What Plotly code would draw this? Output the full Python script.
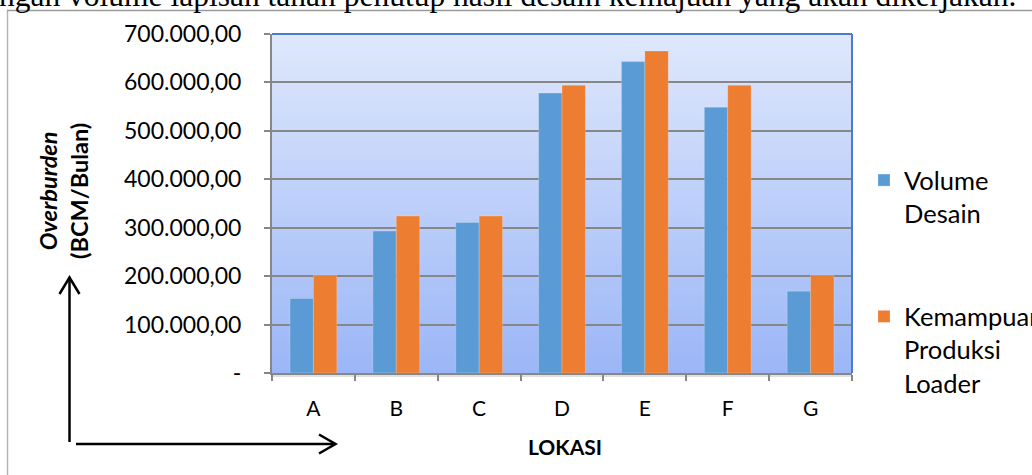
import plotly.graph_objects as go

# ---- data ----
categories = ["A", "B", "C", "D", "E", "F", "G"]
volume_desain = [154000, 293000, 311000, 578000, 643000, 549000, 169000]
kemampuan_loader = [202000, 324000, 324000, 594000, 665000, 594000, 202000]
series_names = ["Volume<br>Desain", "Kemampuan<br>Produksi<br>Loader"]
y_tickvals = [0, 100000, 200000, 300000, 400000, 500000, 600000, 700000]
y_ticktext = ["-", "100.000,00", "200.000,00", "300.000,00", "400.000,00",
              "500.000,00", "600.000,00", "700.000,00"]
header_text = "ngan volume lapisan tanah penutup hasil desain kemajuan yang akan dikerjakan."
x_title = "LOKASI"
y_title = "<b><i>Overburden</i></b><br><b>(BCM/Bulan)</b>"

# ---- layout geometry (pixels) ----
W, H = 1032, 475
L, R, T, B = 272, 852, 34, 373
PW, PH = R - L, B - T

def px(x):
    return (x - L) / PW

def py(y):
    return (B - y) / PH

FONT = "Lato"
BLUE = "#5b9bd5"
ORANGE = "#ed7d31"
GRID = "#878787"

fig = go.Figure()
fig.add_trace(go.Bar(x=categories, y=volume_desain, name=series_names[0],
                     marker=dict(color=BLUE, line=dict(color="rgba(255,255,255,0.35)", width=0.6)),
                     legendgroup="g1"))
fig.add_trace(go.Bar(x=categories, y=kemampuan_loader, name=series_names[1],
                     marker=dict(color=ORANGE, line=dict(color="rgba(255,255,255,0.35)", width=0.6)),
                     legendgroup="g2"))

shapes = []
# gradient background of plot area
N = 113
top_c = (223, 232, 252)
bot_c = (155, 182, 247)
for i in range(N):
    f = (i + 0.5) / N
    c = tuple(round(bot_c[k] + (top_c[k] - bot_c[k]) * f) for k in range(3))
    shapes.append(dict(type="rect", xref="paper", yref="paper", x0=0, x1=1,
                       y0=i / N, y1=(i + 1) / N, line=dict(width=0),
                       fillcolor="rgb(%d,%d,%d)" % c, layer="below"))
# blue top/right border
shapes.append(dict(type="line", xref="paper", yref="paper", x0=0, x1=1, y0=1, y1=1,
                   line=dict(color="#4a7bd0", width=2), layer="above"))
shapes.append(dict(type="line", xref="paper", yref="paper", x0=1, x1=1, y0=0, y1=1,
                   line=dict(color="#4a7bd0", width=2), layer="above"))
# faint shadow below x axis
shapes.append(dict(type="line", xref="paper", yref="paper", x0=0, x1=1,
                   y0=py(B + 3), y1=py(B + 3),
                   line=dict(color="rgba(0,0,0,0.12)", width=2), layer="below"))
# outer frame (left and top)
shapes.append(dict(type="line", xref="paper", yref="paper", x0=px(7.5), x1=px(7.5),
                   y0=py(10), y1=py(H + 5), line=dict(color="#b4b4b4", width=1.5)))
shapes.append(dict(type="line", xref="paper", yref="paper", x0=px(7), x1=px(W + 5),
                   y0=py(10.5), y1=py(10.5), line=dict(color="#9a9a9a", width=1.5)))
# vertical arrow
shapes.append(dict(type="line", xref="paper", yref="paper", x0=px(69.5), x1=px(69.5),
                   y0=py(442), y1=py(278), line=dict(color="black", width=2.5)))
shapes.append(dict(type="path", xref="paper", yref="paper",
                   path="M %f,%f L %f,%f L %f,%f" % (px(59.5), py(294), px(69.5), py(277.5), px(79.5), py(294)),
                   line=dict(color="black", width=2.5)))
# horizontal arrow
shapes.append(dict(type="line", xref="paper", yref="paper", x0=px(76), x1=px(335),
                   y0=py(444), y1=py(444), line=dict(color="black", width=2.5)))
shapes.append(dict(type="path", xref="paper", yref="paper",
                   path="M %f,%f L %f,%f L %f,%f" % (px(319), py(434.5), px(335.5), py(444), px(319), py(453.5)),
                   line=dict(color="black", width=2.5)))

annotations = [
    dict(text=header_text, xref="paper", yref="paper", x=px(-3), y=py(15),
         xanchor="left", yanchor="bottom", showarrow=False,
         font=dict(family="Liberation Serif", size=31.5, color="black")),
    dict(text=y_title, xref="paper", yref="paper", x=px(63), y=py(191),
         xanchor="center", yanchor="middle", textangle=-90, showarrow=False,
         font=dict(family=FONT, size=23.5, color="black")),
    dict(text="<b>" + x_title + "</b>", xref="paper", yref="paper", x=px(565), y=py(446),
         xanchor="center", yanchor="middle", showarrow=False,
         font=dict(family=FONT, size=21, color="black")),
]

fig.update_layout(
    width=W, height=H,
    margin=dict(l=L, r=W - R, t=T, b=H - B, autoexpand=False),
    paper_bgcolor="white",
    plot_bgcolor="rgba(0,0,0,0)",
    barmode="group", bargap=0.435, bargroupgap=0,
    font=dict(family=FONT, size=21, color="black"),
    shapes=shapes,
    annotations=annotations,
    legend=dict(x=px(864), y=py(157), xanchor="left", yanchor="top",
                traceorder="grouped", tracegroupgap=67, valign="top",
                font=dict(family=FONT, size=25.5, color="black"),
                bgcolor="rgba(0,0,0,0)"),
    showlegend=True,
)
fig.update_xaxes(type="category", showline=True, linecolor=GRID, linewidth=2,
                 ticks="outside", ticklen=6, tickcolor=GRID, tickwidth=1.5,
                 tickson="boundaries", showgrid=False, ticklabelstandoff=16,
                 tickfont=dict(family=FONT, size=21, color="black"))
fig.update_yaxes(range=[0, 700000], tickvals=y_tickvals, ticktext=y_ticktext,
                 showline=True, linecolor=GRID, linewidth=2,
                 ticks="outside", ticklen=6, tickcolor=GRID, tickwidth=1.5,
                 showgrid=True, gridcolor=GRID, gridwidth=1.5, zeroline=False,
                 ticklabelstandoff=18,
                 tickfont=dict(family=FONT, size=23, color="black"))

fig.write_html("out.html",
               config={"displayModeBar": False},
               post_script="document.body.style.margin='0px';document.body.style.overflow='hidden';")
